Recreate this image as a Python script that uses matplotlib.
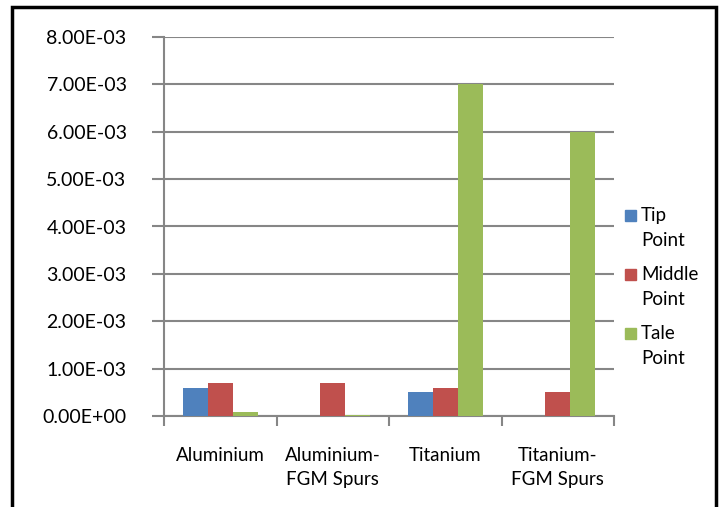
import numpy as np
import matplotlib.pyplot as plt
from matplotlib.ticker import FuncFormatter, FixedLocator
from matplotlib.patches import Rectangle

plt.rcParams['font.family'] = ['Lato', 'DejaVu Sans']

categories = ["Aluminium", "Aluminium-\nFGM Spurs", "Titanium", "Titanium-\nFGM Spurs"]
tip = [0.6e-3, 0.0, 0.5e-3, 0.0]
middle = [0.7e-3, 0.7e-3, 0.6e-3, 0.5e-3]
tale = [0.08e-3, 0.03e-3, 7.0e-3, 6.0e-3]
series_names = ["Tip\nPoint", "Middle\nPoint", "Tale\nPoint"]
colors = ["#4F81BD", "#C0504D", "#9BBB59"]

W, H = 724, 507
fig = plt.figure(figsize=(W / 100, H / 100), dpi=100)
ax = fig.add_axes([164/W, 91/H, 450/W, 379/H])

x = np.arange(len(categories))
w = 0.222
for i, (vals, name, c) in enumerate(zip([tip, middle, tale], series_names, colors)):
    ax.bar(x + (i - 1) * w, vals, w, color=c, label=name, zorder=3)

ax.set_xlim(-0.5, 3.5)
ax.set_ylim(0, 8e-3)
ax.set_yticks(np.arange(0, 8.01e-3, 1e-3))
ax.yaxis.set_major_formatter(FuncFormatter(lambda v, p: "%.2E" % v))
ax.grid(axis='y', color='#868686', linewidth=1.5, zorder=0)
ax.set_xticks(x)
ax.set_xticklabels(categories, fontsize=13.5, linespacing=1.5)
ax.xaxis.set_minor_locator(FixedLocator(np.arange(-0.5, 3.6, 1)))
ax.tick_params(axis='x', which='major', length=0, pad=22)
ax.tick_params(axis='x', which='minor', length=7, width=1.5, color='#868686')
ax.tick_params(axis='y', length=9, width=1.5, color='#868686', labelsize=14, pad=18)
for s in ['top', 'right']:
    ax.spines[s].set_visible(False)
for s in ['left', 'bottom']:
    ax.spines[s].set_color('#868686')
    ax.spines[s].set_linewidth(1.5)

# legend: colour square beside the first line of each two-line label
for i, (name, c) in enumerate(zip(series_names, colors)):
    yc = 215 + 59 * i
    fig.patches.append(Rectangle((625/W, 1 - (yc + 5.5)/H), 11/W, 11/H,
                                 transform=fig.transFigure, color=c))
    fig.text(641/W, 1 - (yc + 13)/H, name, fontsize=13.5, va='center',
             ha='left', linespacing=1.6)

fig.patches.append(Rectangle((12/W, -0.05), 704/W, 1.05 - 7/H,
                             transform=fig.transFigure, fill=False,
                             edgecolor='black', linewidth=2.5))

fig.savefig("out.png", dpi=100)
